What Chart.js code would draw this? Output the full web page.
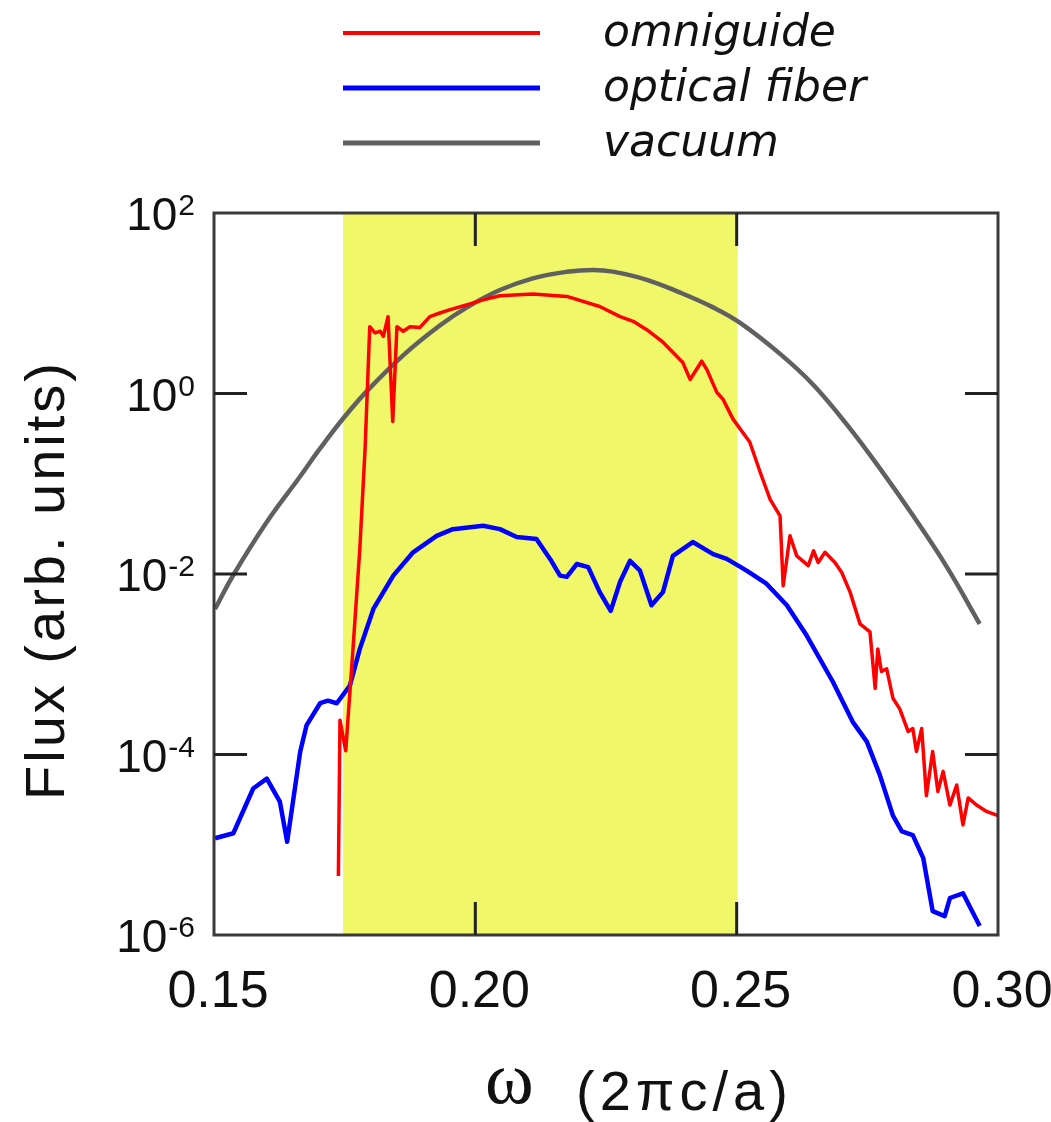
<!DOCTYPE html>
<html>
<head>
<meta charset="utf-8">
<script src="https://cdn.jsdelivr.net/npm/chart.js@4.4.0/dist/chart.umd.min.js"></script>
<style>
  html, body { margin: 0; padding: 0; background: #ffffff; }
  canvas { display: block; }
</style>
</head>
<body>
<canvas id="c" width="1051" height="1122"></canvas>
<script>
// ---- data ----
const omniguideX = [0.1738,0.1741,0.1752,0.1766,0.1779,0.1789,0.1798,0.1808,0.1818,0.1824,0.1833,0.1842,0.1850,0.1862,0.1875,0.1894,0.1913,0.1932,0.1952,0.1983,0.2015,0.2047,0.2110,0.2175,0.2238,0.2277,0.2302,0.2328,0.2359,0.2397,0.2411,0.2433,0.2443,0.2462,0.2474,0.2493,0.2525,0.2545,0.2564,0.2583,0.2589,0.2602,0.2615,0.2637,0.2647,0.2656,0.2669,0.2688,0.2701,0.2717,0.2736,0.2755,0.2765,0.2770,0.2777,0.2787,0.2799,0.2812,0.2828,0.2837,0.2844,0.2854,0.2863,0.2875,0.2885,0.2895,0.2908,0.2921,0.2933,0.2943,0.2959,0.2978,0.3000];
const omniguideY = [4.5e-6,2.4e-4,1.1e-4,1.5e-3,1.9e-2,0.24,5.5,4.7,4.9,4.3,7.1,0.49,5.5,4.9,5.5,5.4,7.1,7.8,8.5,9.6,10.9,12.1,12.7,11.9,9.2,7.1,6.3,5.1,3.7,2.2,1.43,2.28,1.84,1.03,0.86,0.52,0.29,0.134,0.067,0.044,0.0074,0.0265,0.0159,0.0124,0.0181,0.0134,0.0174,0.0134,0.0104,0.0063,0.0028,0.00229,5.4e-4,1.48e-3,8.3e-4,8.9e-4,4.2e-4,3.2e-4,1.8e-4,1.94e-4,1.08e-4,1.94e-4,3.5e-5,1.08e-4,3.9e-5,6.5e-5,2.75e-5,4.6e-5,1.66e-5,3.3e-5,2.75e-5,2.34e-5,2.1e-5];

const fiberX = [0.1502,0.1537,0.1575,0.1601,0.1626,0.1640,0.1665,0.1677,0.1703,0.1718,0.1735,0.1760,0.1779,0.1805,0.1843,0.1881,0.1926,0.1957,0.2015,0.2047,0.2079,0.2117,0.2143,0.2162,0.2175,0.2194,0.2216,0.2238,0.2259,0.2277,0.2296,0.2315,0.2337,0.2359,0.2378,0.2416,0.2455,0.2481,0.2519,0.2557,0.2596,0.2634,0.2684,0.2722,0.2749,0.2774,0.2799,0.2816,0.2837,0.2857,0.2875,0.2898,0.2908,0.2933,0.2965];
const fiberY = [1.18e-5,1.34e-5,4.2e-5,5.4e-5,3.0e-5,1.08e-5,1.08e-4,2.1e-4,3.7e-4,3.95e-4,3.7e-4,5.8e-4,1.48e-3,4.1e-3,9.6e-3,0.0174,0.0265,0.0314,0.0342,0.0314,0.0257,0.0244,0.0147,0.0096,0.0093,0.0129,0.0119,0.0063,0.0039,0.0082,0.0140,0.0109,0.0045,0.0063,0.0159,0.0226,0.0166,0.0147,0.0109,0.0078,0.0045,0.00208,6.4e-4,2.3e-4,1.39e-4,5.9e-5,2.1e-5,1.41e-5,1.28e-5,7.1e-6,1.84e-6,1.62e-6,2.57e-6,2.9e-6,1.26e-6];

const vacuumX = [0.1502,0.1536,0.1601,0.1665,0.1703,0.1749,0.1793,0.1862,0.1932,0.1984,0.2047,0.2110,0.2175,0.2225,0.2263,0.2328,0.2391,0.2455,0.2506,0.2583,0.2646,0.2711,0.2774,0.2837,0.2902,0.2965];
const vacuumY = [4.1e-3,9.5e-3,0.0376,0.121,0.246,0.545,1.07,2.65,5.66,9.0,14.0,18.9,22.3,23.4,22.4,18.2,13.2,9.0,6.1,2.75,1.26,0.452,0.148,0.0447,0.012,0.0028];

const seriesNames = ["omniguide", "optical fiber", "vacuum"];
const seriesColors = ["#ff0000", "#0000ff", "#606060"];

const xTicks = [0.15, 0.20, 0.25, 0.30];
const xTickLabels = ["0.15", "0.20", "0.25", "0.30"];
const yTickExponents = [2, 0, -2, -4, -6];
const bandGap = [0.1747, 0.2502];   // shaded band-gap region

const xTitleSymbol = "ω";
const xTitleRest = "(2πc/a)";
const yTitle = "Flux (arb. units)";

// ---- helpers ----
function pts(xs, ys) { return xs.map((x, i) => ({ x: x, y: ys[i] })); }

const decor = {
  id: 'decor',
  beforeDatasetsDraw(chart) {
    const { ctx, chartArea: a, scales: { x } } = chart;
    ctx.save();
    ctx.fillStyle = '#f0f86a';
    const x0 = x.getPixelForValue(bandGap[0]);
    const x1 = x.getPixelForValue(bandGap[1]);
    ctx.fillRect(x0, a.top, x1 - x0, a.bottom - a.top);
    ctx.restore();
  },
  afterDatasetsDraw(chart) {
    const { ctx, chartArea: a, scales: { x, y } } = chart;
    ctx.save();
    // frame
    ctx.strokeStyle = '#3a3a3a';
    ctx.lineWidth = 3;
    ctx.strokeRect(a.left, a.top, a.right - a.left, a.bottom - a.top);
    // inward ticks, mirrored
    const tl = 33;
    ctx.strokeStyle = '#222222';
    ctx.lineWidth = 3;
    ctx.beginPath();
    xTicks.slice(1, -1).forEach(v => {
      const px = x.getPixelForValue(v);
      ctx.moveTo(px, a.bottom); ctx.lineTo(px, a.bottom - tl);
      ctx.moveTo(px, a.top); ctx.lineTo(px, a.top + tl);
    });
    yTickExponents.slice(1, -1).forEach(e => {
      const py = y.getPixelForValue(Math.pow(10, e));
      ctx.moveTo(a.left, py); ctx.lineTo(a.left + tl, py);
      ctx.moveTo(a.right, py); ctx.lineTo(a.right - tl, py);
    });
    ctx.stroke();

    // x tick labels
    ctx.fillStyle = '#111111';
    ctx.font = '52px "Liberation Sans", Arial, sans-serif';
    ctx.textAlign = 'center';
    ctx.textBaseline = 'alphabetic';
    xTicks.forEach((v, i) => {
      ctx.fillText(xTickLabels[i], x.getPixelForValue(v) + 4, a.bottom + 72);
    });

    // y tick labels: 10 with raised exponent
    yTickExponents.forEach(e => {
      const py = y.getPixelForValue(Math.pow(10, e));
      const expTxt = String(e);
      ctx.font = '30px "Liberation Sans", Arial, sans-serif';
      ctx.textAlign = 'right';
      const rightEdge = 195;
      const ew = ctx.measureText(expTxt).width;
      ctx.fillText(expTxt, rightEdge, py + 2);
      ctx.font = '46px "Liberation Sans", Arial, sans-serif';
      ctx.fillText('10', rightEdge - ew - 1, py + 17);
    });

    // y axis title
    ctx.save();
    ctx.translate(64, (a.top + a.bottom) / 2 + 6);
    ctx.rotate(-Math.PI / 2);
    ctx.font = '56px "Liberation Sans", Arial, sans-serif';
    ctx.letterSpacing = '3px';
    ctx.textAlign = 'center';
    ctx.fillText(yTitle, 0, 0);
    ctx.restore();

    // x axis title
    ctx.textAlign = 'left';
    ctx.font = '74px "Liberation Serif", "DejaVu Serif", serif';
    ctx.fillText(xTitleSymbol, 485, 1103);
    ctx.save();
    ctx.font = '56px "Liberation Sans", Arial, sans-serif';
    ctx.letterSpacing = '5px';
    ctx.fillText(xTitleRest, 576, 1110);
    ctx.restore();

    // legend
    const legendY = [33, 88, 143];
    const lw = [4, 5, 5];
    seriesNames.forEach((name, i) => {
      ctx.strokeStyle = seriesColors[i];
      ctx.lineWidth = lw[i];
      ctx.beginPath();
      ctx.moveTo(343, legendY[i]);
      ctx.lineTo(540, legendY[i]);
      ctx.stroke();
      ctx.fillStyle = '#111111';
      ctx.font = 'italic 44px "DejaVu Sans", sans-serif';
      ctx.textAlign = 'left';
      ctx.fillText(name, 603, legendY[i] + 13);
    });
    ctx.restore();
  }
};

new Chart(document.getElementById('c').getContext('2d'), {
  type: 'line',
  data: {
    datasets: [
      { label: seriesNames[0], data: pts(omniguideX, omniguideY), borderColor: seriesColors[0], borderWidth: 3.5, pointRadius: 0, tension: 0, fill: false, borderJoinStyle: 'round' },
      { label: seriesNames[1], data: pts(fiberX, fiberY), borderColor: seriesColors[1], borderWidth: 4.5, pointRadius: 0, tension: 0, fill: false, borderJoinStyle: 'round' },
      { label: seriesNames[2], data: pts(vacuumX, vacuumY), borderColor: seriesColors[2], borderWidth: 4.5, pointRadius: 0, tension: 0.4, fill: false }
    ]
  },
  options: {
    responsive: false,
    animation: false,
    events: [],
    layout: { padding: { left: 214, right: 53, top: 213, bottom: 187 } },
    plugins: { legend: { display: false }, tooltip: { enabled: false } },
    scales: {
      x: { type: 'linear', min: 0.15, max: 0.30, display: false },
      y: { type: 'logarithmic', min: 1e-6, max: 1e2, display: false }
    }
  },
  plugins: [decor]
});
</script>
</body>
</html>
